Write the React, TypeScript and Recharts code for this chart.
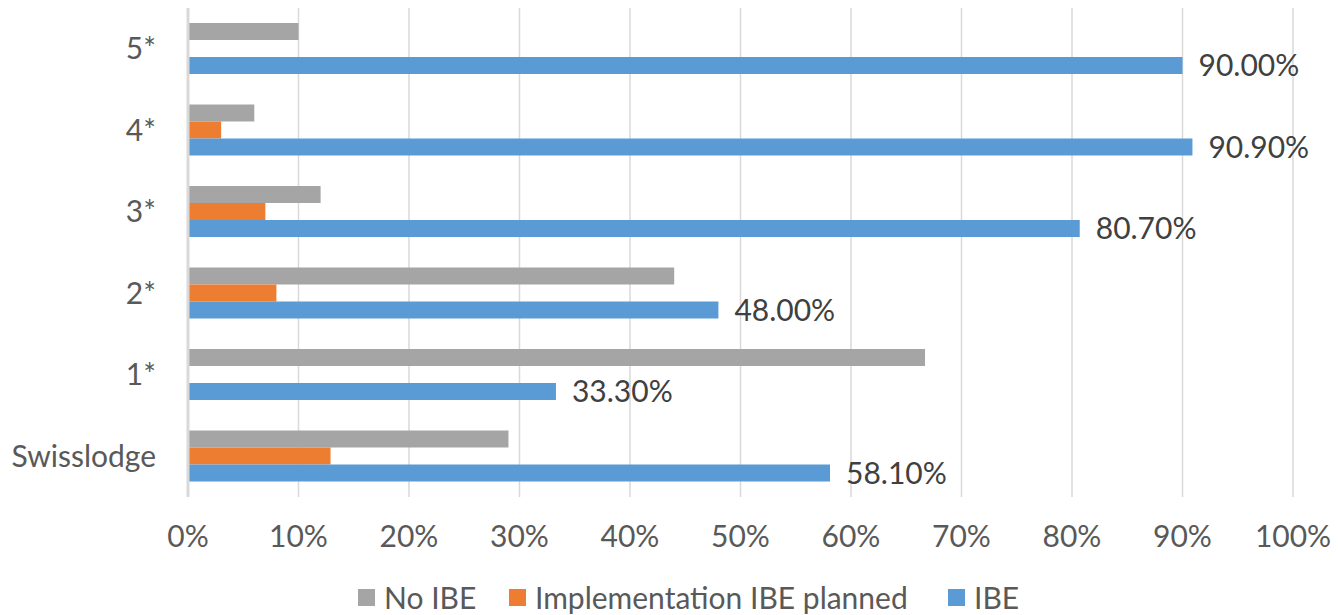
import { BarChart, Bar, XAxis, YAxis, CartesianGrid, Legend, LabelList } from 'recharts';

const categories = ['5*', '4*', '3*', '2*', '1*', 'Swisslodge'];
const noIbe = [10, 6, 12, 44, 66.7, 29];
const implementationPlanned = [0, 3, 7, 8, 0, 12.9];
const ibe = [90, 90.9, 80.7, 48, 33.3, 58.1];
const xTicks = [0, 10, 20, 30, 40, 50, 60, 70, 80, 90, 100];

const legendItems = [
  { label: 'No IBE', color: '#A5A5A5', slot: 151 },
  { label: 'Implementation IBE planned', color: '#ED7D31', slot: 439 },
  { label: 'IBE', color: '#5B9BD5', slot: 80 },
];

const data = categories.map((name, i) => ({
  name,
  noIbe: noIbe[i],
  planned: implementationPlanned[i],
  ibe: ibe[i],
}));

const FONT = 'Lato, "Open Sans", sans-serif';

// legend drawn by hand so the slots line up with the original
const ChartLegend = () => (
  <div
    style={{
      display: 'flex',
      alignItems: 'flex-start',
      height: 33,
      paddingLeft: 358,
      fontFamily: FONT,
      fontSize: 30,
      lineHeight: '30px',
      color: '#595959',
    }}
  >
    {legendItems.map((item) => (
      <div key={item.label} style={{ display: 'flex', alignItems: 'center', width: item.slot, height: 30, whiteSpace: 'nowrap' }}>
        <span style={{ display: 'inline-block', width: 17, height: 17, background: item.color, marginRight: 9 }} />
        <span>{item.label}</span>
      </div>
    ))}
  </div>
);

export default function App() {
  return (
    <div style={{ position: 'absolute', left: 0, top: 0 }}>
      <BarChart
        width={1338}
        height={615}
        data={data}
        layout="vertical"
        margin={{ top: 8, right: 45, left: 0, bottom: 0 }}
        barSize={17}
        barGap={0}
        style={{ fontFamily: FONT }}
      >
        <CartesianGrid horizontal={false} stroke="#d9d9d9" strokeWidth={1.5} />
        <XAxis
          type="number"
          domain={[0, 100]}
          ticks={xTicks}
          tickFormatter={(v) => `${v}%`}
          axisLine={false}
          tickLine={false}
          tickSize={0}
          tickMargin={29}
          height={85}
          tick={{ fontSize: 30, fill: '#595959' }}
        />
        <YAxis
          type="category"
          dataKey="name"
          width={188}
          axisLine={{ stroke: '#d9d9d9', strokeWidth: 3 }}
          tickLine={false}
          tickSize={0}
          tickMargin={32}
          tick={{ fontSize: 30, fill: '#595959' }}
        />
        <Legend verticalAlign="bottom" align="left" wrapperStyle={{ left: 0, width: 1338 }} content={() => <ChartLegend />} />
        <Bar dataKey="noIbe" name="No IBE" fill="#A5A5A5" isAnimationActive={false} />
        <Bar dataKey="planned" name="Implementation IBE planned" fill="#ED7D31" isAnimationActive={false} />
        <Bar dataKey="ibe" name="IBE" fill="#5B9BD5" isAnimationActive={false}>
          <LabelList
            dataKey="ibe"
            position="right"
            offset={16}
            formatter={(v: any) => `${Number(v).toFixed(2)}%`}
            style={{ fontSize: 30, fill: '#404040', fontFamily: FONT }}
          />
        </Bar>
      </BarChart>
    </div>
  );
}
